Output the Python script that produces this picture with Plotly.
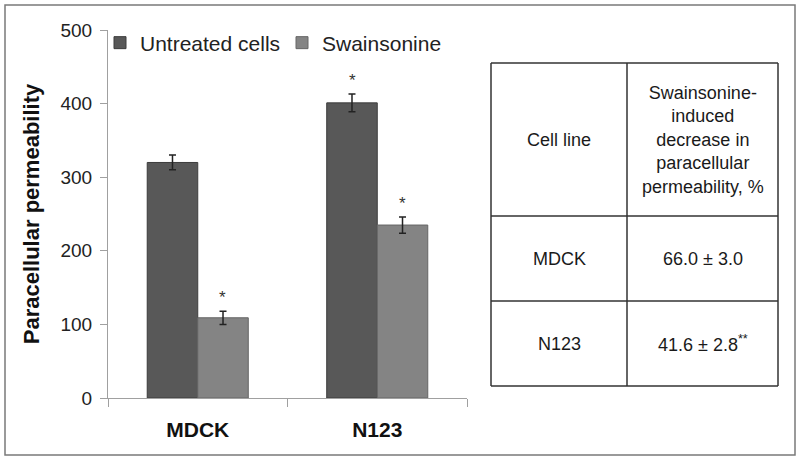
import plotly.graph_objects as go

categories = ["MDCK", "N123"]
series_names = ["Untreated cells", "Swainsonine"]
untreated = [320, 401]
untreated_err = [10, 12]
swainsonine = [109, 235]
swainsonine_err = [9, 11]
untreated_sig = ["", "*"]
swainsonine_sig = ["*", "*"]
y_ticks = [0, 100, 200, 300, 400, 500]

table_header = ["Cell line", "Swainsonine-<br>induced<br>decrease in<br>paracellular<br>permeability, %"]
table_rows = [["MDCK", "66.0 ± 3.0"], ["N123", "41.6 ± 2.8<sup>**</sup>"]]

FONT = "Arial, Liberation Sans, sans-serif"

# plot area geometry (pixels)
L, R, T, B = 108, 467, 30, 398
W, H = 800, 460


def px(x):
    return (x - L) / (R - L)


def py(y):
    return (B - y) / (B - T)


fig = go.Figure()
fig.add_trace(go.Bar(
    x=categories, y=untreated, name=series_names[0],
    marker=dict(color="#585858", line=dict(color="#3c3c3c", width=1)),
    error_y=dict(type="data", array=untreated_err, color="#222222", thickness=1.5, width=3.5),
))
fig.add_trace(go.Bar(
    x=categories, y=swainsonine, name=series_names[1],
    marker=dict(color="#848484", line=dict(color="#666666", width=1)),
    error_y=dict(type="data", array=swainsonine_err, color="#222222", thickness=1.5, width=3.5),
))

annotations = []
for vals, errs, sig, shift in [(untreated, untreated_err, untreated_sig, -25),
                               (swainsonine, swainsonine_err, swainsonine_sig, 25)]:
    for c, v, e, s in zip(categories, vals, errs, sig):
        if s:
            annotations.append(dict(x=c, y=v + e, xref="x", yref="y", text=s, showarrow=False,
                                    xshift=shift, yshift=2, yanchor="bottom",
                                    font=dict(family=FONT, size=17, color="#333333")))

# table
tx = [491, 627, 778]
ty = [63, 216, 301, 386]
shapes = []
for x in tx:
    shapes.append(dict(type="line", xref="paper", yref="paper", x0=px(x), x1=px(x), y0=py(ty[0]), y1=py(ty[-1]),
                       line=dict(color="#333333", width=1.5)))
for y in ty:
    shapes.append(dict(type="line", xref="paper", yref="paper", x0=px(tx[0]), x1=px(tx[-1]), y0=py(y), y1=py(y),
                       line=dict(color="#333333", width=1.5)))
# outer frame
shapes.append(dict(type="rect", xref="paper", yref="paper", x0=px(5), x1=px(795), y0=py(455), y1=py(5),
                   line=dict(color="#7a7a7a", width=1.5), layer="below"))

rows = [table_header] + table_rows
for i, row in enumerate(rows):
    yc = (ty[i] + ty[i + 1]) / 2
    for j, txt in enumerate(row):
        xc = (tx[j] + tx[j + 1]) / 2
        annotations.append(dict(x=px(xc), y=py(yc), xref="paper", yref="paper", text=txt, showarrow=False,
                                xanchor="center", yanchor="middle", align="center",
                                font=dict(family=FONT, size=18, color="#1a1a1a")))

fig.update_layout(
    width=W, height=H,
    margin=dict(l=L, r=W - R, t=T, b=H - B),
    paper_bgcolor="white", plot_bgcolor="white",
    barmode="group", bargap=0.437, bargroupgap=0,
    font=dict(family=FONT, color="#222222"),
    legend=dict(orientation="h", x=px(100), xanchor="left", y=py(43), yanchor="middle",
                font=dict(family=FONT, size=21, color="#222222"), bgcolor="rgba(0,0,0,0)",
                itemwidth=30, entrywidth=137, entrywidthmode="pixels"),
    xaxis=dict(range=[-0.5, 1.5], showline=True, linecolor="#a0a0a0", linewidth=1.2,
               ticks="outside", tickson="boundaries", ticklen=8, tickcolor="#a0a0a0",
               tickfont=dict(family=FONT, size=21, color="#111111", weight="bold"),
               ticklabelstandoff=13, showgrid=False, zeroline=False),
    yaxis=dict(range=[0, 500], tickvals=y_ticks, showline=True, linecolor="#a0a0a0", linewidth=1.2,
               ticks="outside", ticklen=7, tickcolor="#a0a0a0",
               tickfont=dict(family=FONT, size=19, color="#222222"),
               ticklabelstandoff=4,
               showgrid=False, zeroline=False,
               title=dict(text="<b>Paracellular permeability</b>", font=dict(family=FONT, size=22, color="#111111"),
                          standoff=14)),
    shapes=shapes, annotations=annotations,
)

fig.write_html("out.html", config={"displayModeBar": False},
               post_script="document.body.style.margin='0';")
